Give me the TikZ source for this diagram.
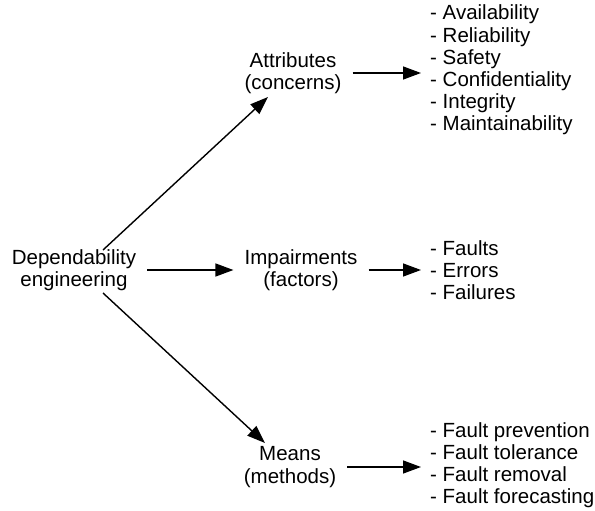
\documentclass[tikz,border=0pt]{standalone}
\usepackage{fontspec}
\setmainfont{Liberation Sans}
\usetikzlibrary{arrows.meta}
\begin{document}
\begin{tikzpicture}[x=1pt,y=-1pt,
  every node/.style={font=\fontsize{20.5}{22.2}\selectfont},
  topic/.style={align=center,inner xsep=11pt,inner ysep=6pt},
  items/.style={align=left,inner sep=0pt,anchor=west},
  link/.style={line width=1.4pt,-{Triangle[length=18pt,width=13pt]}}]
\useasboundingbox (0,0) rectangle (595,511);
% root concept
\node[topic] (dep) at (74,270) {Dependability\\engineering};
% three facets of dependability
\node[topic] (attr) at (293,73) {Attributes\\(concerns)};
\node[topic] (imp) at (301,270) {Impairments\\(factors)};
\node[topic] (means) at (290,467) {Means\\(methods)};
% lists of members
\node[items] (attrlist) at (430,70) {- Availability\\- Reliability\\- Safety\\- Confidentiality\\- Integrity\\- Maintainability};
\node[items] (implist) at (430,270) {- Faults\\- Errors\\- Failures};
\node[items] (meanslist) at (430,465) {- Fault prevention\\- Fault tolerance\\- Fault removal\\- Fault forecasting};
% connectors
\draw[link] ([shift={(29,-20)}]dep.center) -- ([shift={(-25,24)}]attr.center);
\draw[link] (dep) -- (imp);
\draw[link] ([shift={(29,23)}]dep.center) -- ([shift={(-25,-24)}]means.center);
\draw[link,shorten >=9pt] (attr) -- (attr -| attrlist.west);
\draw[link,shorten >=9pt] (imp) -- (imp -| implist.west);
\draw[link,shorten >=9pt] (means) -- (means -| meanslist.west);
\end{tikzpicture}
\end{document}
